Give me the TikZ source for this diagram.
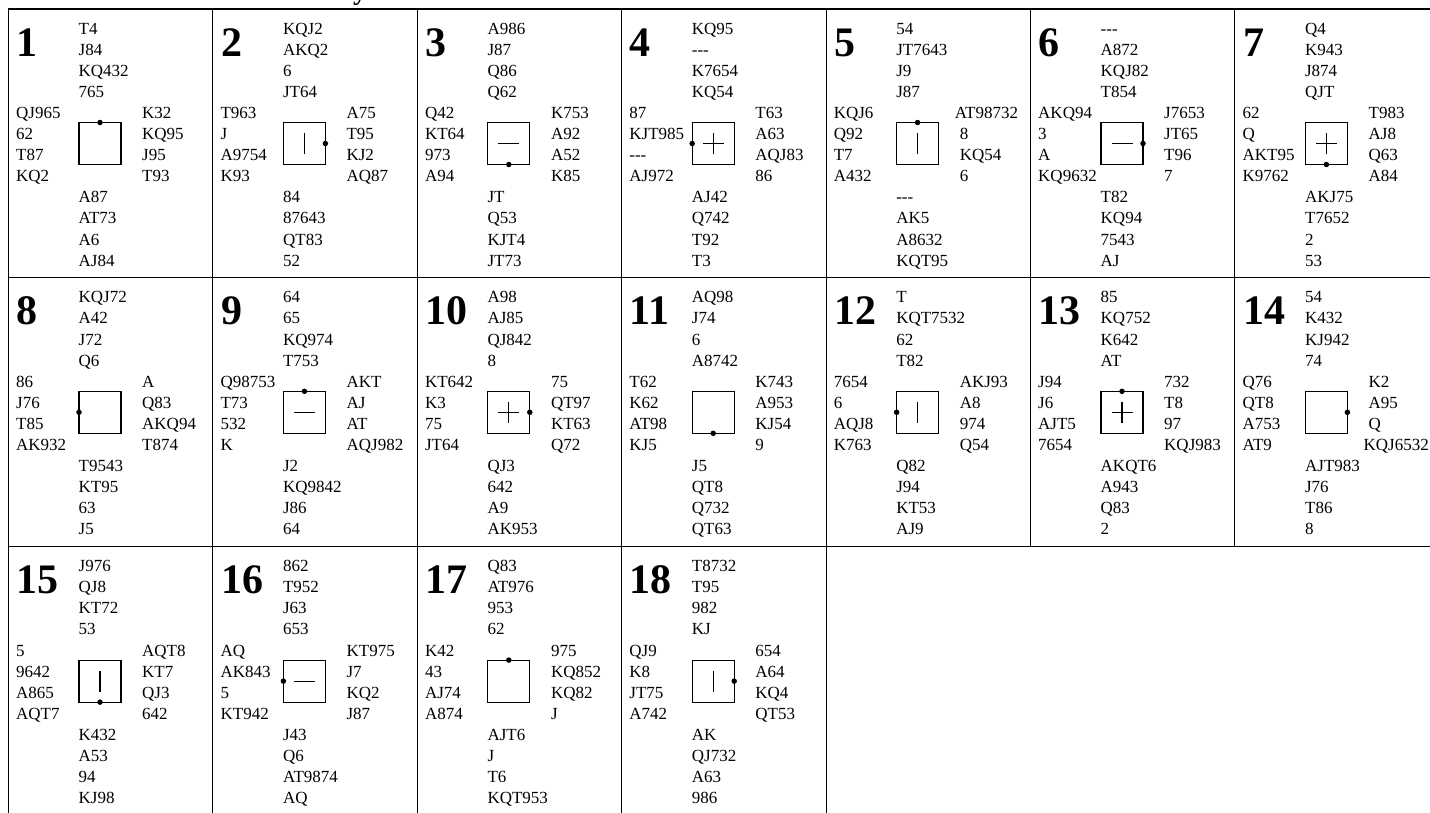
\documentclass[tikz,border=0pt]{standalone}
\usepackage{fontspec}
\setmainfont{Liberation Serif}
\newcommand\voidsuit{\mbox{-}\mbox{-}\mbox{-}}
\tikzset{
  cellbox/.style={draw, line width=1.1pt, minimum width=204.4pt, minimum height=268.8pt, inner sep=0pt, outer sep=0pt, anchor=north west},
  handtxt/.style={anchor=base west, inner sep=0pt, font=\fontsize{17}{20}\selectfont},
  boardno/.style={anchor=base west, inner sep=0pt, font=\fontsize{42}{46}\selectfont\bfseries},
  compass/.style={draw, line width=1.1pt, minimum size=42pt, inner sep=0pt, outer sep=0pt},
  dealerdot/.style={circle, fill, inner sep=0pt, minimum size=5.5pt},
  vulmark/.style={line width=1.1pt},
  titletxt/.style={anchor=base west, inner sep=0pt, font=\fontsize{28}{30}\selectfont\bfseries}
}
\newcommand\handat[4]{%
  \foreach \s [count=\i] in {#4}{%
    \node[handtxt] (#1-\i) at ({#2},{#3+21.1*(\i-1)}) {\s};
  }}
\newcommand\vulnone[1]{}
\newcommand\vulns[1]{\draw[vulmark] ([yshift=-10.5pt]#1.center) -- ([yshift=10.5pt]#1.center);}
\newcommand\vulew[1]{\draw[vulmark] ([xshift=-10.5pt]#1.center) -- ([xshift=10.5pt]#1.center);}
\newcommand\vulboth[1]{\vulns{#1}\vulew{#1}}
% number, col, row, N, W, E, S, dealer side, vulnerability
\newcommand\deal[9]{%
  \pgfmathsetmacro\dcx{8.5+204.4*#2}%
  \pgfmathsetmacro\dcy{9+268.8*#3}%
  \node[cellbox] (cell#1) at (\dcx,\dcy) {};
  \node[boardno] (num#1) at (\dcx+8,\dcy+47) {#1};
  \handat{n#1}{\dcx+70}{\dcy+25}{#4}
  \handat{w#1}{\dcx+7.5}{\dcy+109.4}{#5}
  \handat{e#1}{\dcx+133.5}{\dcy+109.4}{#6}
  \handat{s#1}{\dcx+70}{\dcy+193.8}{#7}
  \node[compass] (sq#1) at (\dcx+91.5,\dcy+134.5) {};
  \node[dealerdot] (dot#1) at (sq#1.#8) {};
  \csname vul#9\endcsname{sq#1}
}
\begin{document}
\begin{tikzpicture}[x=1pt,y=-1pt]
\fill[white] (0,0) rectangle (1430,812);
\useasboundingbox (0,0) rectangle (1430,812);
\node[titletxt] (title) at (353,-0.5) {y};
\deal{1}{0}{0}{T4,J84,KQ432,765}{QJ965,62,T87,KQ2}{K32,KQ95,J95,T93}{A87,AT73,A6,AJ84}{north}{none}
\deal{2}{1}{0}{KQJ2,AKQ2,6,JT64}{T963,J,A9754,K93}{A75,T95,KJ2,AQ87}{84,87643,QT83,52}{east}{ns}
\deal{3}{2}{0}{A986,J87,Q86,Q62}{Q42,KT64,973,A94}{K753,A92,A52,K85}{JT,Q53,KJT4,JT73}{south}{ew}
\deal{4}{3}{0}{KQ95,\voidsuit,K7654,KQ54}{87,KJT985,\voidsuit,AJ972}{T63,A63,AQJ83,86}{AJ42,Q742,T92,T3}{west}{both}
\deal{5}{4}{0}{54,JT7643,J9,J87}{KQJ6,Q92,T7,A432}{\kern-5pt AT98732,8,KQ54,6}{\voidsuit,AK5,A8632,KQT95}{north}{ns}
\deal{6}{5}{0}{\voidsuit,A872,KQJ82,T854}{AKQ94,3,A,KQ9632}{J7653,JT65,T96,7}{T82,KQ94,7543,AJ}{east}{ew}
\deal{7}{6}{0}{Q4,K943,J874,QJT}{62,Q,AKT95,K9762}{T983,AJ8,Q63,A84}{AKJ75,T7652,2,53}{south}{both}
\deal{8}{0}{1}{KQJ72,A42,J72,Q6}{86,J76,T85,AK932}{A,Q83,AKQ94,T874}{T9543,KT95,63,J5}{west}{none}
\deal{9}{1}{1}{64,65,KQ974,T753}{Q98753,T73,532,K}{AKT,AJ,AT,AQJ982}{J2,KQ9842,J86,64}{north}{ew}
\deal{10}{2}{1}{A98,AJ85,QJ842,8}{KT642,K3,75,JT64}{75,QT97,KT63,Q72}{QJ3,642,A9,AK953}{east}{both}
\deal{11}{3}{1}{AQ98,J74,6,A8742}{T62,K62,AT98,KJ5}{K743,A953,KJ54,9}{J5,QT8,Q732,QT63}{south}{none}
\deal{12}{4}{1}{T,KQT7532,62,T82}{7654,6,AQJ8,K763}{AKJ93,A8,974,Q54}{Q82,J94,KT53,AJ9}{west}{ns}
\deal{13}{5}{1}{85,KQ752,K642,AT}{J94,J6,AJT5,7654}{732,T8,97,KQJ983}{AKQT6,A943,Q83,2}{north}{both}
\deal{14}{6}{1}{54,K432,KJ942,74}{Q76,QT8,A753,AT9}{K2,A95,Q,\kern-5pt KQJ6532}{AJT983,J76,T86,8}{east}{none}
\deal{15}{0}{2}{J976,QJ8,KT72,53}{5,9642,A865,AQT7}{AQT8,KT7,QJ3,642}{K432,A53,94,KJ98}{south}{ns}
\deal{16}{1}{2}{862,T952,J63,653}{AQ,AK843,5,KT942}{KT975,J7,KQ2,J87}{J43,Q6,AT9874,AQ}{west}{ew}
\deal{17}{2}{2}{Q83,AT976,953,62}{K42,43,AJ74,A874}{975,KQ852,KQ82,J}{AJT6,J,T6,KQT953}{north}{none}
\deal{18}{3}{2}{T8732,T95,982,KJ}{QJ9,K8,JT75,A742}{654,A64,KQ4,QT53}{AK,QJ732,A63,986}{east}{ns}
\end{tikzpicture}
\end{document}
